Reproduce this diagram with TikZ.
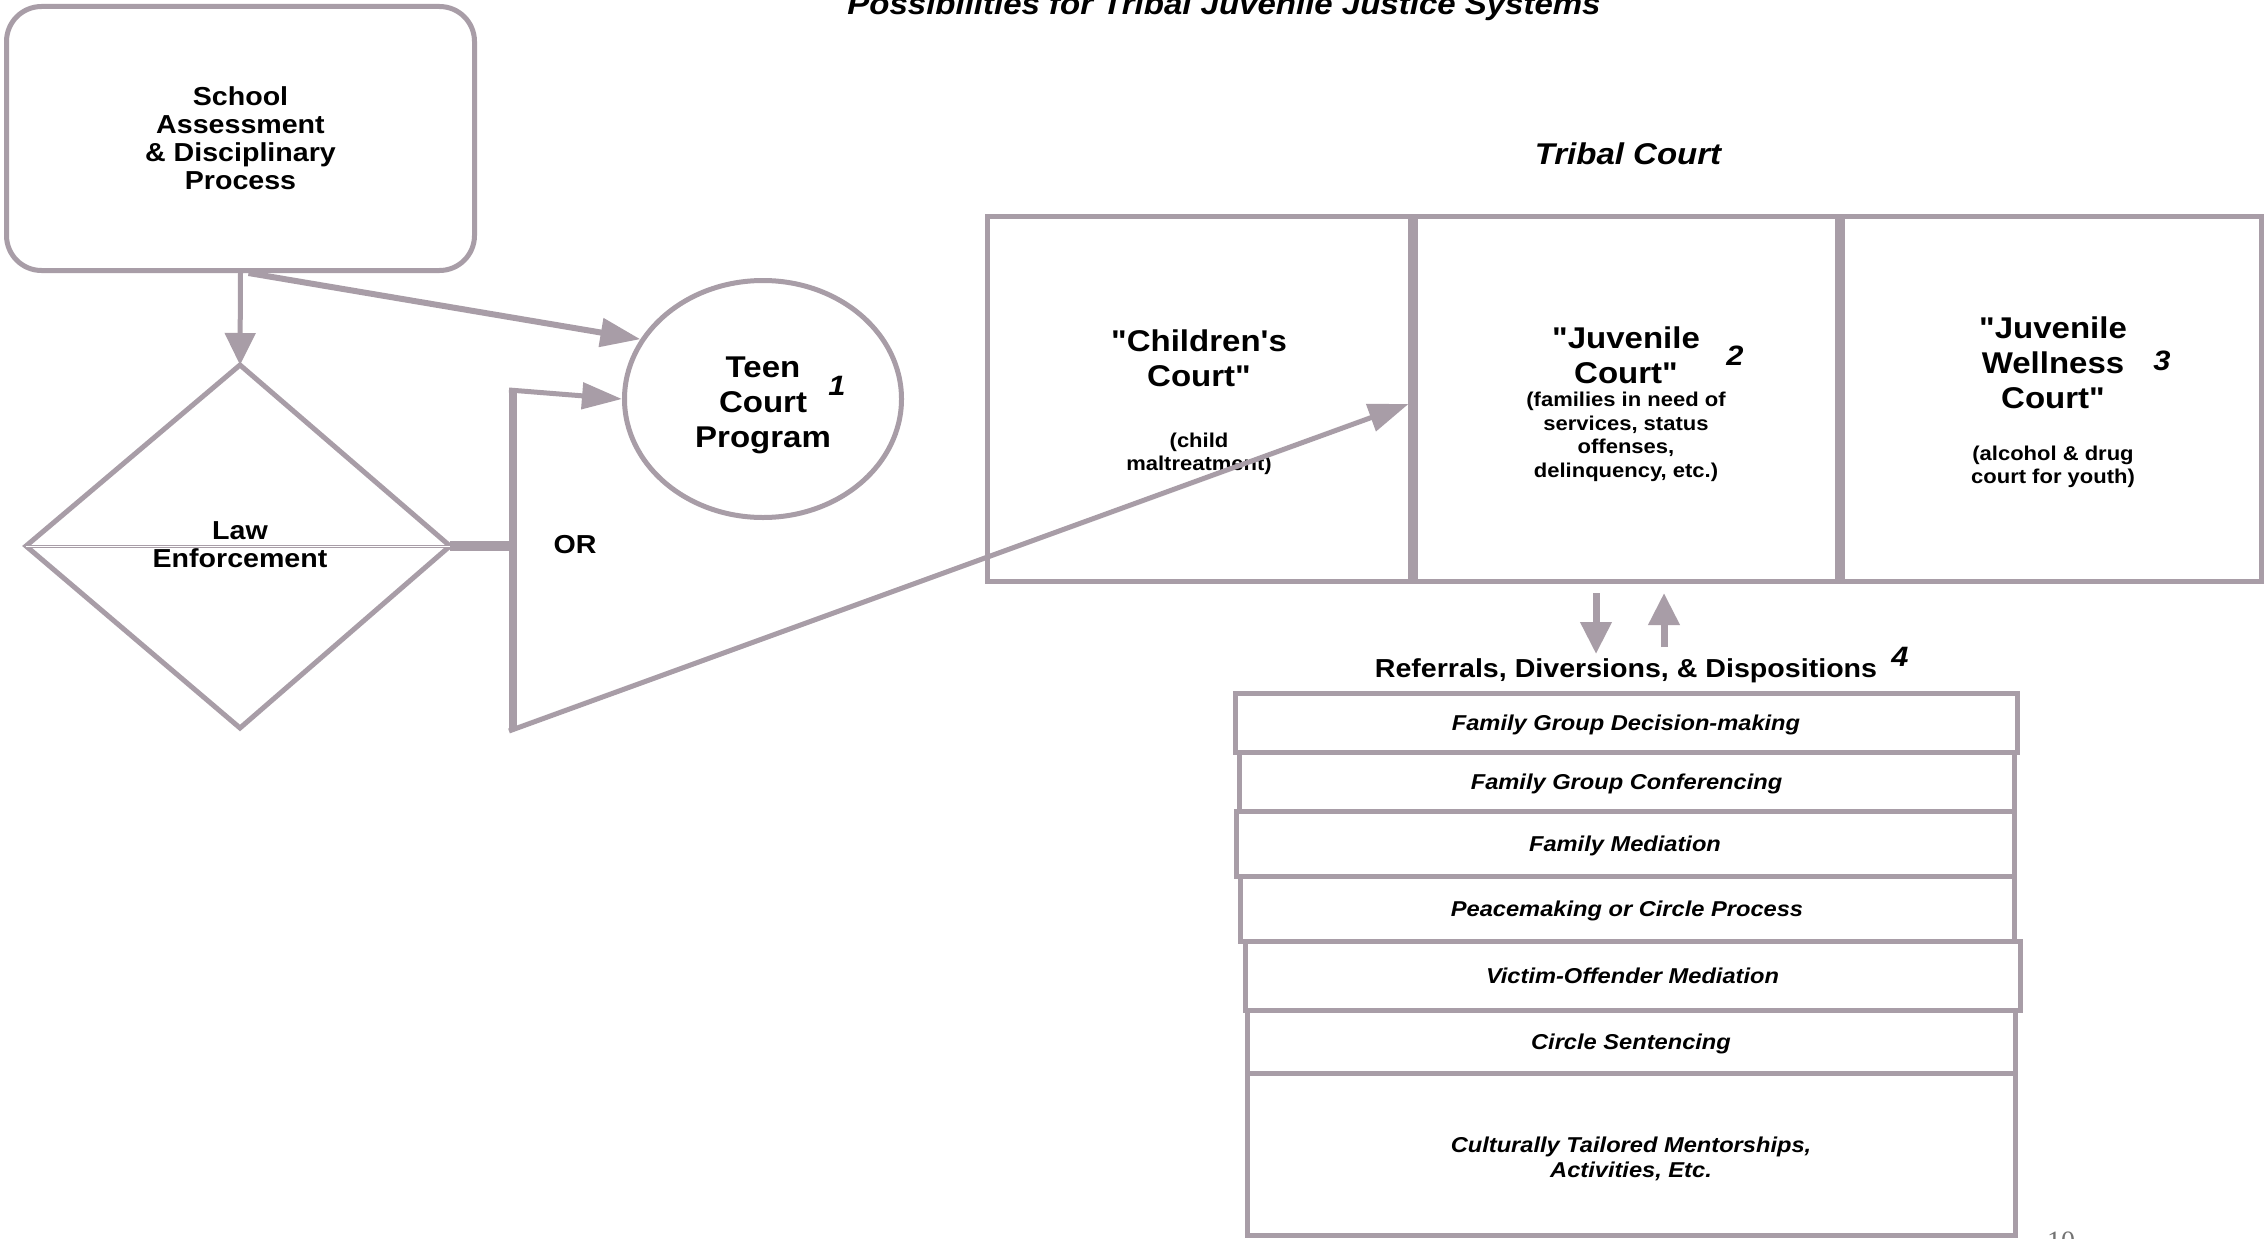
\documentclass[tikz,border=0pt]{standalone}
\usepackage{fontspec}
\setmainfont{Liberation Sans}[FakeStretch=1.1,Ligatures=TeXOff]
\newfontfamily\pgfont{Liberation Serif}
\usetikzlibrary{arrows.meta,shapes.geometric,calc}
\definecolor{lc}{RGB}{168,157,167}
\definecolor{pg}{RGB}{115,115,115}
\begin{document}
\begin{tikzpicture}[x=1pt,y=-1pt,
  ln/.style={draw=lc,line width=5pt},
  big/.style={font=\fontsize{30}{35}\selectfont\bfseries, align=center, inner sep=0pt},
  mid/.style={font=\fontsize{26}{28}\selectfont\bfseries, align=center, inner sep=0pt},
  small/.style={font=\fontsize{20}{23.5}\selectfont\bfseries, align=center, inner sep=0pt},
  num/.style={font=\fontsize{28}{28}\selectfont\bfseries\itshape, inner sep=0pt, anchor=base},
  itemtxt/.style={font=\fontsize{21.5}{25}\selectfont\bfseries\itshape, align=center, inner sep=0pt},
  item/.style={ln, itemtxt, text height=15.4pt, text depth=0pt},
  arrow/.style={draw=lc, line width=5pt, -{Triangle[length=32pt,width=30pt]}}
]
\useasboundingbox (0,0) rectangle (2267,1239);
\fill[white] (0,0) rectangle (2267,1239);

% title
\node[anchor=base, inner sep=0pt, font=\fontsize{30}{30}\selectfont\bfseries\itshape] (title) at (1224,15) {Possibilities for Tribal Juvenile Justice Systems};

% school box
\node[ln, rounded corners=35pt, minimum width=468, minimum height=264, inner sep=0pt, mid] (school) at (240.5,138.5) {School\\Assessment\\\& Disciplinary\\Process};

% diamond
\coordinate (dT) at (240,365);
\coordinate (dB) at (240,728);
\coordinate (dL) at (26,546);
\coordinate (dR) at (450,546);
\draw[ln, line join=miter] (dT) -- (dR) -- (dB) -- (dL) -- cycle;
\draw[lc, line width=3pt] (dL) -- (dR);
\draw[white, line width=1pt] (dL) -- (dR);
\node[mid] (law) at (240,545) {Law\\Enforcement};

% teen court
\node[ellipse, ln, minimum width=277, minimum height=237, inner sep=0pt] (teen) at (763,399) {};
\node[big] (teentxt) at (763,405) {Teen\\Court\\Program};
\node[num] (n1) at (837,395) {1};

% arrows from school
\draw[arrow] (school.south) -- (dT);
\draw[draw=lc, line width=6pt, -{Triangle[length=40pt,width=28pt]}] ($(school.south)+(8,0)$) -- (teen.154);

% bracket
\coordinate (bT) at (513,390);
\coordinate (bM) at (513,546);
\coordinate (bB) at (513,731);
\draw[lc, line width=10pt] (dR) -- (bM);
\draw[lc, line width=8pt] (bT) -- (bB);
\draw[draw=lc, line width=5pt, -{Triangle[length=40pt,width=26pt]}] ($(bT)+(-4,0)$) -- (teen.180);
\node[mid] (or) at (575,545) {OR};

% tribal court
\node[anchor=base, inner sep=0pt, font=\fontsize{30}{30}\selectfont\bfseries\itshape] (tribal) at (1628,164) {Tribal Court};
\node[ln, minimum width=423, minimum height=365, inner sep=0pt] (cc) at (1198.5,399) {};
\node[ln, minimum width=422, minimum height=365, inner sep=0pt] (jc) at (1626,399) {};
\node[ln, minimum width=419, minimum height=365, inner sep=0pt] (wc) at (2051.5,399) {};

\node[big] (cct) at (1199,358) {"Children's\\Court"};
\node[small] (cct2) at (1199,454) {(child\\maltreatment)};
\node[big] (jct) at (1626,355) {"Juvenile\\Court"};
\node[small] (jct2) at (1626,437) {(families in need of\\services, status\\offenses,\\delinquency, etc.)};
\node[num] (n2) at (1735,365) {2};
\node[big] (wct) at (2053,363) {"Juvenile\\Wellness\\Court"};
\node[num] (n3) at (2162,370) {3};
\node[small] (wct2) at (2053,467) {(alcohol \& drug\\court for youth)};

% arrow from bracket to juvenile court
\coordinate (jcin) at ($(jc.west)+(-4,5)$);
\draw[draw=lc, line width=5pt, -{Triangle[length=40pt,width=28pt]}] ($(bB)+(-4,0)$) -- (jcin);

% referrals
\node[mid, anchor=base] (ref) at (1626,677) {Referrals, Diversions, \& Dispositions};
\node[num] (n4) at (1900,666) {4};
\coordinate (r1a) at (1596,593);
\coordinate (r1b) at (1596,654);
\coordinate (r2a) at (1664,647);
\coordinate (r2b) at (1664,593);
\draw[draw=lc, line width=7pt, -{Triangle[length=32pt,width=30pt]}] (r1a) -- (r1b);
\draw[draw=lc, line width=7pt, -{Triangle[length=32pt,width=30pt]}] (r2a) -- (r2b);

% list boxes
\node[item, minimum width=782, minimum height=59] (b1) at (1626,722.5) {Family Group Decision-making};
\node[item, minimum width=775, minimum height=59] (b2) at (1626.5,781.5) {Family Group Conferencing};
\node[item, minimum width=778, minimum height=65] (b3) at (1625,843.5) {Family Mediation};
\node[item, minimum width=774, minimum height=65] (b4) at (1627,908.5) {Peacemaking or Circle Process};
\node[item, minimum width=775, minimum height=69] (b5) at (1632.5,975.5) {Victim-Offender Mediation};
\node[item, minimum width=768, minimum height=63] (b6) at (1631,1041.5) {Circle Sentencing};
\node[ln, minimum width=768, minimum height=162, inner sep=0pt] (b7) at (1631,1154) {};
\node[itemtxt] (b7t) at (1631,1159) {Culturally Tailored Mentorships,\\Activities, Etc.};

% page number
\node[anchor=base, inner sep=0pt, font=\pgfont\fontsize{28}{28}\selectfont, text=pg] (pnum) at (2061,1250) {10};
\end{tikzpicture}
\end{document}
